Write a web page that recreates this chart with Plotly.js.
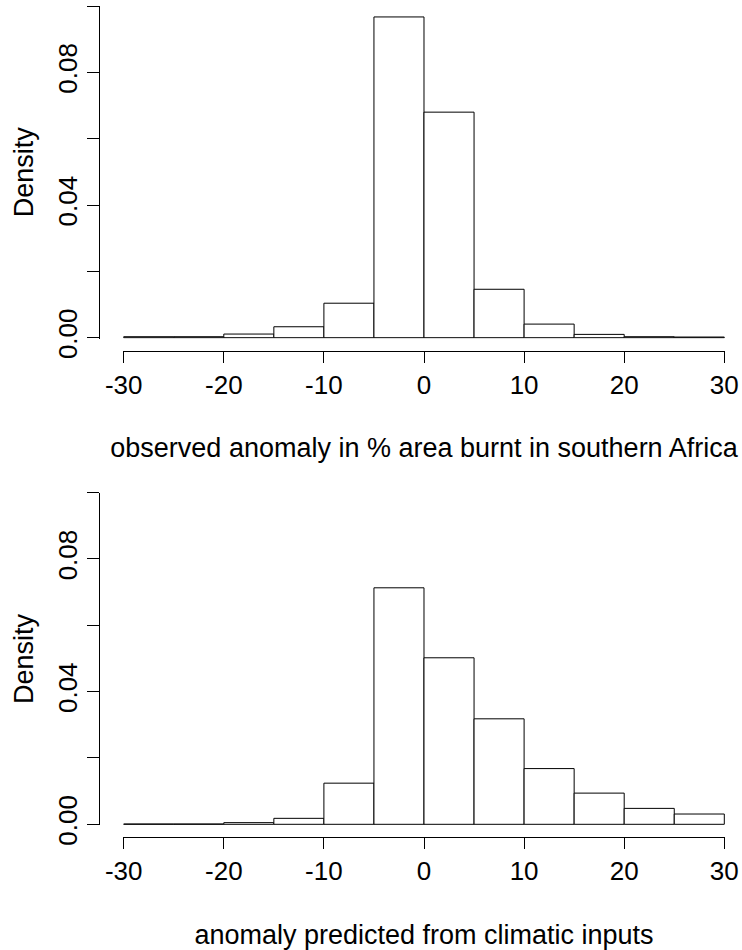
<!DOCTYPE html>
<html>
<head>
<meta charset="utf-8">
<script src="https://cdn.plot.ly/plotly-3.0.1.min.js"></script>
<style>html,body{margin:0;padding:0;background:#fff;}#chart{width:742px;height:950px;}</style>
</head>
<body>
<div id="chart"></div>
<script>
// ---- data ----
const binEdges = [-30, -25, -20, -15, -10, -5, 0, 5, 10, 15, 20, 25, 30];
const observedDensity  = [0.0003, 0.0003, 0.0011, 0.0033, 0.0104, 0.0967, 0.0680, 0.0146, 0.0041, 0.0010, 0.0003, 0.0002];
const predictedDensity = [0.0001, 0.0001, 0.0005, 0.0018, 0.0124, 0.0713, 0.0502, 0.0318, 0.0168, 0.0094, 0.0048, 0.0031];
const xTickVals = [-30, -20, -10, 0, 10, 20, 30];
const xTickText = ['-30', '-20', '-10', '0', '10', '20', '30'];
const yTickVals = [0, 0.02, 0.04, 0.06, 0.08, 0.10];
const yTickText = ['0.00', '', '0.04', '', '0.08', ''];
const yLabel = 'Density';
const xLabelTop = 'observed anomaly in % area burnt in southern Africa';
const xLabelBottom = 'anomaly predicted from climatic inputs';

// ---- derived bar geometry (from bin edges) ----
const centers = binEdges.slice(0, -1).map((e, i) => (e + binEdges[i + 1]) / 2);
const widths = binEdges.slice(0, -1).map((e, i) => binEdges[i + 1] - e);

// ---- pixel layout helpers ----
const W = 742, H = 950;
const px = v => v / W;
const py = v => 1 - v / H;

const FONT = '"Liberation Sans", Arial, sans-serif';
const barStyle = {color: 'white', line: {color: 'black', width: 1}};

const traces = [
  {type: 'bar', x: centers, y: observedDensity, width: widths, marker: barStyle,
   xaxis: 'x', yaxis: 'y', hoverinfo: 'x+y'},
  {type: 'bar', x: centers, y: predictedDensity, width: widths, marker: barStyle,
   xaxis: 'x2', yaxis: 'y2', hoverinfo: 'x+y'}
];

function xAxis(posPx, title, standoff) {
  return {
    domain: [px(122.7), px(725.3)], range: [-30.1, 30.1], anchor: 'free', position: py(posPx),
    showline: true, linecolor: 'black', linewidth: 1,
    ticks: 'outside', ticklen: 11, tickwidth: 1, tickcolor: 'black',
    tickmode: 'array', tickvals: xTickVals, ticktext: xTickText,
    tickfont: {family: FONT, size: 26, color: 'black'},
    showgrid: false, zeroline: false, fixedrange: true,
    title: {text: title, font: {family: FONT, size: 27, color: 'black'}, standoff: standoff}
  };
}
function yAxis(bottomPx, topPx) {
  return {
    domain: [py(bottomPx + 1), py(topPx)], range: [-0.0003, 0.1], anchor: 'free', position: px(99.3),
    showline: true, linecolor: 'black', linewidth: 1,
    ticks: 'outside', ticklen: 12, tickwidth: 1, tickcolor: 'black',
    tickmode: 'array', tickvals: yTickVals, ticktext: yTickText, tickangle: -90,
    tickfont: {family: FONT, size: 26, color: 'black'},
    showgrid: false, zeroline: false, fixedrange: true,
    title: {text: yLabel, font: {family: FONT, size: 27, color: 'black'}, standoff: 10}
  };
}

const layout = {
  width: W, height: H,
  margin: {l: 0, r: 0, t: 0, b: 0, pad: 0},
  paper_bgcolor: 'white', plot_bgcolor: 'white',
  showlegend: false, bargap: 0,
  font: {family: FONT, color: 'black'},
  xaxis: xAxis(350.7, xLabelTop, 39),
  yaxis: yAxis(337.7, 6),
  xaxis2: xAxis(836.7, xLabelBottom, 41),
  yaxis2: yAxis(824.3, 492.6)
};

Plotly.newPlot('chart', traces, layout, {displayModeBar: false, staticPlot: true});
</script>
</body>
</html>
